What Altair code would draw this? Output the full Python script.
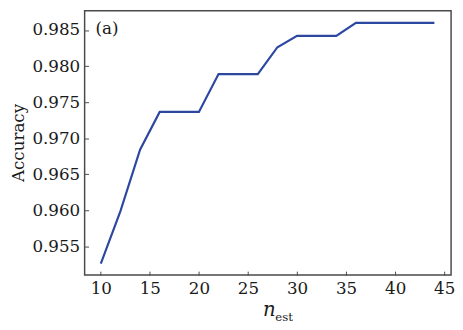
import altair as alt
import pandas as pd

n_est = [10, 12, 14, 16, 18, 20, 22, 24, 26, 28, 30, 32, 34, 36, 38, 40, 42, 44]
accuracy = [0.9526, 0.9599, 0.9684, 0.97365, 0.97365, 0.97365, 0.9789, 0.9789, 0.9789,
            0.98262, 0.98419, 0.98419, 0.98419, 0.9860, 0.9860, 0.9860, 0.9860, 0.9860]
x_ticks = [10, 15, 20, 25, 30, 35, 40, 45]
y_ticks = [0.955, 0.960, 0.965, 0.970, 0.975, 0.980, 0.985]

df = pd.DataFrame({"n": n_est, "acc": accuracy})

FONT = "DejaVu Serif"
W, H = 373, 269
GRAY = "#4a4a4a"

line = alt.Chart(df).mark_line(color="#2b47a0", strokeWidth=2.2).encode(
    x=alt.X("n:Q", scale=alt.Scale(domain=[8.35, 45.7], nice=False, zero=False),
            axis=alt.Axis(values=x_ticks, title=None, grid=False, domain=False,
                          offset=-4, tickSize=4, tickColor=GRAY, tickWidth=1,
                          labelPadding=6, labelFont=FONT, labelFontSize=17,
                          labelColor="#1a1a1a", format="d")),
    y=alt.Y("acc:Q", scale=alt.Scale(domain=[0.95102, 0.98767], nice=False, zero=False),
            axis=alt.Axis(values=y_ticks, title=None, grid=False, domain=False,
                          offset=-4, tickSize=4, tickColor=GRAY, tickWidth=1,
                          labelPadding=5, labelFont=FONT, labelFontSize=17,
                          labelColor="#1a1a1a", format=".3f")),
)

def label(text, x, y, size, **kw):
    return alt.Chart(pd.DataFrame({"t": [text]})).mark_text(
        font=FONT, fontSize=size, color="#1a1a1a", **kw
    ).encode(text="t:N", x=alt.value(x), y=alt.value(y))

tag = label("(a)", 11, 24, 17, align="left", baseline="alphabetic")
ylab = label("Accuracy", -67, H / 2, 17, angle=270, align="center", baseline="middle")
xn = label("n", 188, 311, 20, align="center", baseline="alphabetic", fontStyle="italic")
xest = label("est", 194, 316, 12, align="left", baseline="alphabetic")

chart = alt.layer(line, tag, ylab, xn, xest).properties(
    width=W, height=H,
    autosize=alt.AutoSizeParams(type="none"),
    padding={"left": 78, "top": 0, "right": 4, "bottom": 52},
    view=alt.ViewBackground(stroke=GRAY, strokeWidth=1.5),
).configure(background="white")

chart.save("out.html", embed_options={"renderer": "svg", "actions": False})
